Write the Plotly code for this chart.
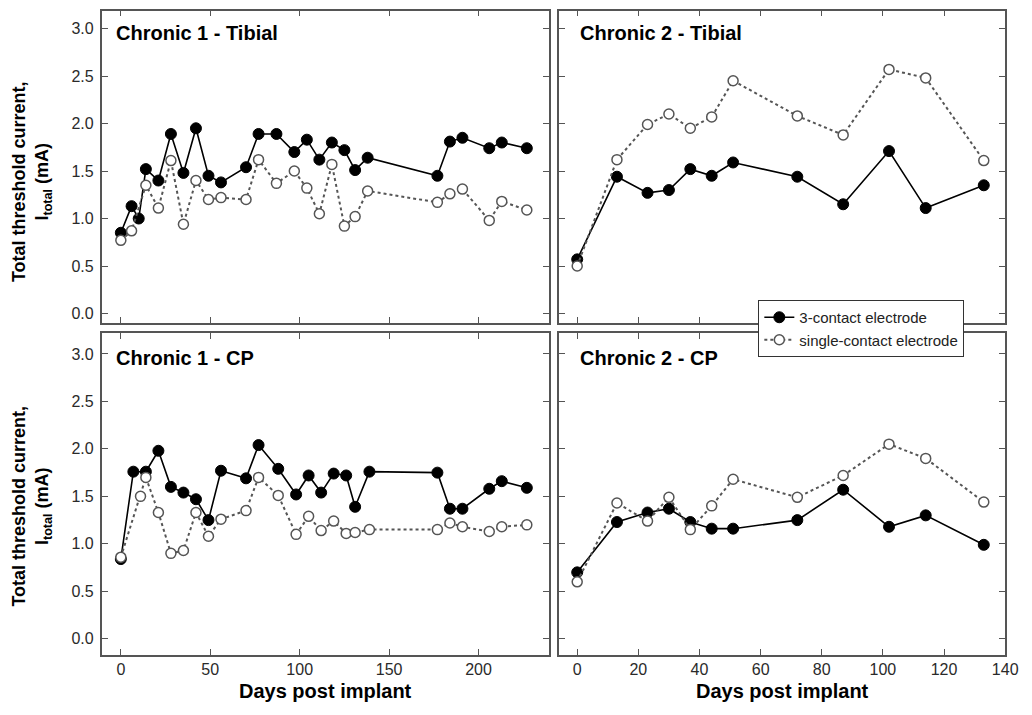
import plotly.graph_objects as go

W, H = 1032, 715

# ---------------- data ----------------
c1_tib_days_3 = [0, 6, 10, 14, 21, 28, 35, 42, 49, 56, 70, 77, 87, 97, 104, 111, 118, 125, 131, 138, 177, 184, 191, 206, 213, 227]
c1_tib_3 = [0.85, 1.13, 1.00, 1.52, 1.40, 1.89, 1.48, 1.95, 1.45, 1.38, 1.54, 1.89, 1.89, 1.70, 1.83, 1.62, 1.80, 1.72, 1.51, 1.64, 1.45, 1.81, 1.85, 1.74, 1.80, 1.74]
c1_tib_days_1 = [0, 6, 14, 21, 28, 35, 42, 49, 56, 70, 77, 87, 97, 104, 111, 118, 125, 131, 138, 177, 184, 191, 206, 213, 227]
c1_tib_1 = [0.77, 0.87, 1.35, 1.11, 1.61, 0.94, 1.40, 1.20, 1.22, 1.20, 1.62, 1.37, 1.50, 1.32, 1.05, 1.57, 0.92, 1.02, 1.29, 1.17, 1.26, 1.31, 0.98, 1.18, 1.09]

c2_days = [0, 13, 23, 30, 37, 44, 51, 72, 87, 102, 114, 133]
c2_tib_3 = [0.57, 1.44, 1.27, 1.30, 1.52, 1.45, 1.59, 1.44, 1.15, 1.71, 1.11, 1.35]
c2_tib_1 = [0.50, 1.62, 1.99, 2.10, 1.95, 2.07, 2.45, 2.08, 1.88, 2.57, 2.48, 1.61]

c1_cp_days_3 = [0, 7, 14, 21, 28, 35, 42, 49, 56, 70, 77, 88, 98, 105, 112, 119, 126, 131, 139, 177, 184, 191, 206, 213, 227]
c1_cp_3 = [0.84, 1.76, 1.76, 1.98, 1.60, 1.54, 1.47, 1.25, 1.77, 1.69, 2.04, 1.79, 1.52, 1.72, 1.54, 1.74, 1.72, 1.39, 1.76, 1.75, 1.37, 1.37, 1.58, 1.66, 1.59]
c1_cp_days_1 = [0, 11, 14, 21, 28, 35, 42, 49, 56, 70, 77, 88, 98, 105, 112, 119, 126, 131, 139, 177, 184, 191, 206, 213, 227]
c1_cp_1 = [0.86, 1.50, 1.70, 1.33, 0.90, 0.93, 1.33, 1.08, 1.26, 1.35, 1.70, 1.51, 1.10, 1.29, 1.14, 1.24, 1.11, 1.12, 1.15, 1.15, 1.22, 1.18, 1.13, 1.18, 1.20]

c2_cp_3 = [0.70, 1.23, 1.33, 1.37, 1.23, 1.16, 1.16, 1.25, 1.57, 1.18, 1.30, 0.99]
c2_cp_1 = [0.60, 1.43, 1.24, 1.49, 1.15, 1.40, 1.68, 1.49, 1.72, 2.05, 1.90, 1.44]

panel_titles = ["Chronic 1 - Tibial", "Chronic 2 - Tibial", "Chronic 1 - CP", "Chronic 2 - CP"]
series_names = ["3-contact electrode", "single-contact electrode"]

panels = [
    (c1_tib_days_3, c1_tib_3, c1_tib_days_1, c1_tib_1),
    (c2_days, c2_tib_3, c2_days, c2_tib_1),
    (c1_cp_days_3, c1_cp_3, c1_cp_days_1, c1_cp_1),
    (c2_days, c2_cp_3, c2_days, c2_cp_1),
]

FONT = "Liberation Sans, Arial, sans-serif"
AXC = "#555555"

fig = go.Figure()

for i, (d3, v3, d1, v1) in enumerate(panels):
    xa = "x" if i == 0 else f"x{i+1}"
    ya = "y" if i == 0 else f"y{i+1}"
    fig.add_trace(go.Scatter(
        x=d3, y=v3, xaxis=xa, yaxis=ya, mode="lines+markers",
        name=series_names[0], showlegend=(i == 0), legendrank=1,
        line=dict(color="black", width=1.6),
        marker=dict(symbol="circle", size=11, color="black", line=dict(color="black", width=1)),
    ))
    fig.add_trace(go.Scatter(
        x=d1, y=v1, xaxis=xa, yaxis=ya, mode="lines+markers",
        name=series_names[1], showlegend=(i == 0), legendrank=2,
        line=dict(color="#555555", width=2, dash="dot"),
        marker=dict(symbol="circle", size=10, color="white", line=dict(color="#555555", width=1.5)),
    ))

# domains in pixels
xl = [103 / W, 556 / W]
xr = [566 / W, 1018 / W]
yt = [1 - 323 / H, 1 - 10.5 / H]
yb = [1 - 655 / H, 1 - 333 / H]

common = dict(
    showline=True, linecolor=AXC, linewidth=1.6, mirror="ticks",
    ticks="inside", ticklen=6, tickwidth=1.4, tickcolor=AXC,
    showgrid=False, zeroline=False,
    tickfont=dict(family=FONT, size=16, color="#2a2a2a"),
)

xl_range = [-10.7, 239.4]
xr_range = [-6.0, 140.0]
yt_range = [-0.10, 3.19]
yb_range = [-0.17, 3.22]

fig.update_layout(
    width=W, height=H,
    margin=dict(l=0, r=0, t=0, b=0),
    paper_bgcolor="white", plot_bgcolor="white",
    xaxis=dict(domain=xl, range=xl_range, dtick=50, tick0=0, showticklabels=False, anchor="y", **common),
    yaxis=dict(domain=yt, range=yt_range, dtick=0.5, tick0=0, tickformat=".1f", anchor="x", ticklabelstandoff=3, **common),
    xaxis2=dict(domain=xr, range=xr_range, dtick=20, tick0=0, showticklabels=False, anchor="y2", **common),
    yaxis2=dict(domain=yt, range=yt_range, dtick=0.5, tick0=0, showticklabels=False, anchor="x2", **common),
    xaxis3=dict(domain=xl, range=xl_range, dtick=50, tick0=0, anchor="y3", ticklabelstandoff=-1, **common),
    yaxis3=dict(domain=yb, range=yb_range, dtick=0.5, tick0=0, tickformat=".1f", anchor="x3", ticklabelstandoff=3, **common),
    xaxis4=dict(domain=xr, range=xr_range, dtick=20, tick0=0, anchor="y4", ticklabelstandoff=-1, **common),
    yaxis4=dict(domain=yb, range=yb_range, dtick=0.5, tick0=0, showticklabels=False, anchor="x4", **common),
    legend=dict(
        x=768 / W, y=1 - 300 / H, xanchor="left", yanchor="top",
        bgcolor="white", bordercolor="#333333", borderwidth=1,
        font=dict(family=FONT, size=15, color="#222222"),
        tracegroupgap=0, itemwidth=30,
    ),
    showlegend=True,
)

ann = []
title_pos = [(115, 33), (585, 33), (115, 358), (585, 358)]
for t, (px, py) in zip(panel_titles, title_pos):
    ann.append(dict(text=f"<b>{t}</b>", x=px / W, y=1 - py / H, xref="paper", yref="paper",
                    xanchor="left", yanchor="middle", showarrow=False,
                    font=dict(family=FONT, size=20, color="black")))

for cy in [(10 + 323) / 2 + 15, (333 + 655) / 2 + 12]:
    ann.append(dict(text="<b>Total threshold current,</b><br><b>I<sub>total</sub> (mA)</b>",
                    x=32 / W, y=1 - cy / H, xref="paper", yref="paper",
                    xanchor="center", yanchor="middle", textangle=-90, showarrow=False,
                    font=dict(family=FONT, size=18, color="black")))

for cx in [(103 + 556) / 2, (566 + 1018) / 2]:
    ann.append(dict(text="<b>Days post implant</b>", x=cx / W, y=1 - 691 / H, xref="paper", yref="paper",
                    xanchor="center", yanchor="middle", showarrow=False,
                    font=dict(family=FONT, size=20, color="black")))

fig.update_layout(annotations=ann)

fig.write_html("out.html")
